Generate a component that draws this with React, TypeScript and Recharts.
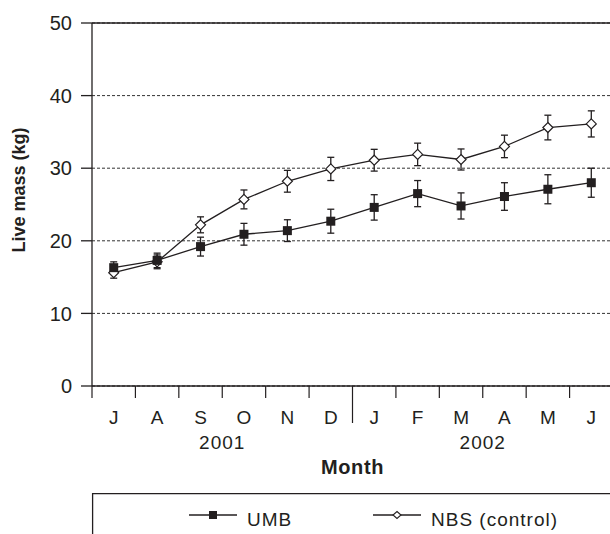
import React from 'react';
import { LineChart, Line, XAxis, YAxis, CartesianGrid, ReferenceLine, ErrorBar, Legend } from 'recharts';

// Jul 2001 .. Jun 2002
const periods = ['2001-07', '2001-08', '2001-09', '2001-10', '2001-11', '2001-12', '2002-01', '2002-02', '2002-03', '2002-04', '2002-05', '2002-06'];
const monthLabels = ['J', 'A', 'S', 'O', 'N', 'D', 'J', 'F', 'M', 'A', 'M', 'J'];
const yearLabels = ['2001', '2002'];

const umbMass = [16.3, 17.3, 19.2, 20.9, 21.4, 22.7, 24.6, 26.5, 24.8, 26.1, 27.1, 28.0];
const umbSe = [0.8, 1.0, 1.3, 1.5, 1.5, 1.65, 1.75, 1.8, 1.8, 1.9, 2.0, 2.0];
const nbsMass = [15.6, 17.1, 22.2, 25.7, 28.2, 29.9, 31.1, 31.9, 31.2, 33.0, 35.6, 36.1];
const nbsSe = [0.75, 0.95, 1.1, 1.3, 1.5, 1.6, 1.5, 1.55, 1.45, 1.55, 1.7, 1.8];

const yTicks = [0, 10, 20, 30, 40, 50];

const data = periods.map((p, i) => ({
  period: p,
  umb: umbMass[i],
  umbErr: umbSe[i],
  nbs: nbsMass[i],
  nbsErr: nbsSe[i],
}));

const INK = '#231f20';
const FONT = '"Liberation Sans", Arial, Helvetica, sans-serif';
const CHART_W = 640;
const CHART_H = 534;
const PLOT_LEFT = 92;
const PLOT_RIGHT = 613;
const PLOT_TOP = 23;
const BAND = (PLOT_RIGHT - PLOT_LEFT) / periods.length;
const MONTHS_PER_YEAR = 6;

function MonthTick(props: any) {
  const { x, y } = props;
  const index = props.index ?? props.payload?.index ?? 0;
  const left = x - BAND / 2;
  const isYearBreak = index > 0 && index % MONTHS_PER_YEAR === 0;
  const showYear = index % MONTHS_PER_YEAR === 2;
  return (
    <g>
      <line x1={left} x2={left} y1={y} y2={y + (isYearBreak ? 37 : 12)} stroke={INK} strokeWidth={1.2} />
      <text x={x} y={y + 38} textAnchor="middle" fontSize={19} fill={INK} fontFamily={FONT}>
        {monthLabels[index]}
      </text>
      {showYear && (
        <text x={x + BAND / 2} y={y + 63} textAnchor="middle" fontSize={19} letterSpacing={1} fill={INK} fontFamily={FONT}>
          {yearLabels[Math.floor(index / MONTHS_PER_YEAR)]}
        </text>
      )}
    </g>
  );
}

const SquareDot = (p: any) => {
  if (p.cx == null || p.cy == null) return <g />;
  return <rect x={p.cx - 4.5} y={p.cy - 4.5} width={9} height={9} fill={INK} />;
};

const DiamondDot = (p: any) => {
  if (p.cx == null || p.cy == null) return <g />;
  const { cx, cy } = p;
  return (
    <path
      d={`M${cx},${cy - 5}L${cx + 5},${cy}L${cx},${cy + 5}L${cx - 5},${cy}Z`}
      fill="#fff"
      stroke={INK}
      strokeWidth={1.2}
    />
  );
};

const LEGEND_ORDER = ['umb', 'nbs'];
const LEGEND_ITEM_X = [97, 281];

function LegendBox(props: any) {
  const items = [...(props.payload ?? [])].sort(
    (a: any, b: any) => LEGEND_ORDER.indexOf(a.dataKey) - LEGEND_ORDER.indexOf(b.dataKey)
  );
  return (
    <svg width={530} height={45} style={{ display: 'block', overflow: 'visible' }}>
      <line x1={0} x2={530} y1={0.6} y2={0.6} stroke={INK} strokeWidth={1.3} />
      <line x1={0.6} x2={0.6} y1={0} y2={45} stroke={INK} strokeWidth={1.3} />
      {items.map((it: any, i: number) => {
        const x0 = LEGEND_ITEM_X[i];
        const cx = x0 + 24;
        const cy = 22;
        return (
          <g key={it.dataKey}>
            <line x1={x0} x2={x0 + 48} y1={cy} y2={cy} stroke={INK} strokeWidth={1.3} />
            {it.dataKey === 'umb' ? (
              <rect x={cx - 4} y={cy - 4} width={8} height={8} fill={INK} />
            ) : (
              <path
                d={`M${cx},${cy - 3.5}L${cx + 4},${cy}L${cx},${cy + 3.5}L${cx - 4},${cy}Z`}
                fill="#fff"
                stroke={INK}
                strokeWidth={1.1}
              />
            )}
            <text x={x0 + 58} y={33} fontSize={19} letterSpacing={1} fill={INK} fontFamily={FONT}>
              {it.value}
            </text>
          </g>
        );
      })}
    </svg>
  );
}

export default function App() {
  return (
    <div
      style={{
        position: 'absolute',
        left: 0,
        top: 0,
        width: 610,
        height: 534,
        overflow: 'hidden',
        background: '#fff',
      }}
    >
      <LineChart
        width={CHART_W}
        height={CHART_H}
        data={data}
        margin={{ top: PLOT_TOP, right: CHART_W - PLOT_RIGHT, bottom: 0, left: 0 }}
      >
        <CartesianGrid vertical={false} strokeDasharray="3 2" stroke="#333" strokeWidth={1} />
        <XAxis
          dataKey="period"
          interval={0}
          height={148}
          padding={{ left: BAND / 2, right: BAND / 2 }}
          tickLine={false}
          tickSize={0}
          tickMargin={0}
          axisLine={{ stroke: INK, strokeWidth: 1.3 }}
          tick={<MonthTick />}
          label={{
            content: () => (
              <text
                x={(PLOT_LEFT + PLOT_RIGHT) / 2}
                y={474}
                textAnchor="middle"
                fontSize={20}
                fontWeight="bold"
                letterSpacing={0.6}
                fill={INK}
                fontFamily={FONT}
              >
                Month
              </text>
            ),
          }}
        />
        <YAxis
          type="number"
          domain={[0, 50]}
          ticks={yTicks}
          interval={0}
          width={PLOT_LEFT}
          tickSize={11}
          tickMargin={9}
          axisLine={{ stroke: INK, strokeWidth: 1.3 }}
          tickLine={{ stroke: INK, strokeWidth: 1.3 }}
          tick={{ fontSize: 20, fill: INK, fontFamily: FONT }}
          label={{
            content: () => (
              <text
                transform="translate(19,190) rotate(-90)"
                textAnchor="middle"
                dominantBaseline="central"
                fontSize={18}
                fontWeight="bold"
                fill={INK}
                fontFamily={FONT}
              >
                Live mass (kg)
              </text>
            ),
          }}
        />
        <ReferenceLine y={50} stroke={INK} strokeWidth={1.5} />
        <Line
          dataKey="nbs"
          name="NBS (control)"
          stroke={INK}
          strokeWidth={1.3}
          dot={DiamondDot}
          activeDot={false}
          isAnimationActive={false}
        >
          <ErrorBar dataKey="nbsErr" direction="y" width={3.5} stroke={INK} strokeWidth={1.3} />
        </Line>
        <Line
          dataKey="umb"
          name="UMB"
          stroke={INK}
          strokeWidth={1.3}
          dot={SquareDot}
          activeDot={false}
          isAnimationActive={false}
        >
          <ErrorBar dataKey="umbErr" direction="y" width={3.5} stroke={INK} strokeWidth={1.3} />
        </Line>
        <Legend
          layout="horizontal"
          verticalAlign="middle"
          align="center"
          content={<LegendBox />}
          wrapperStyle={{ top: 493, left: PLOT_LEFT, width: 530, height: 45 }}
        />
      </LineChart>
    </div>
  );
}
